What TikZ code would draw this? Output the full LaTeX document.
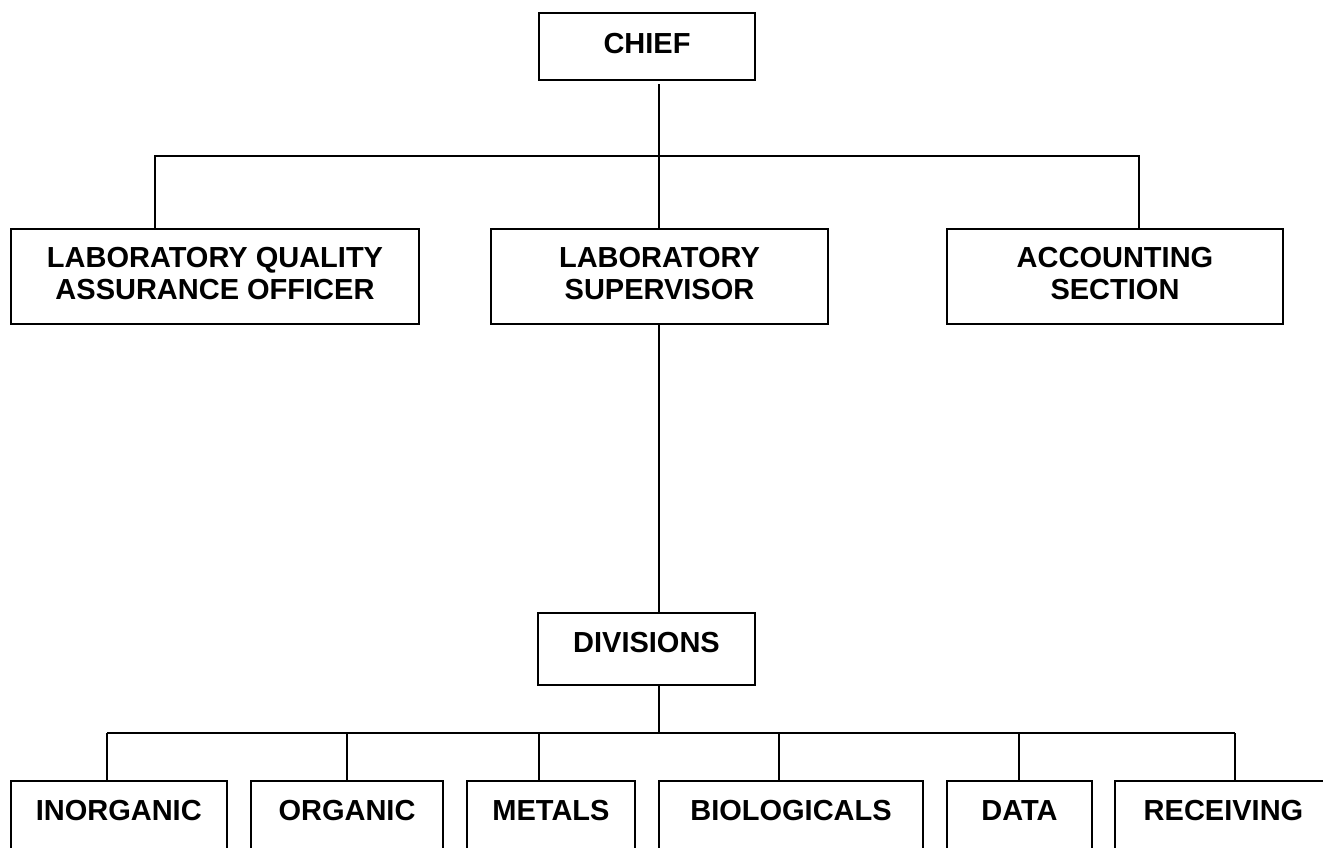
\documentclass[tikz,border=0pt]{standalone}
\usepackage{fontspec}
\setmainfont{Liberation Sans}
\usepackage{tikz}
\usetikzlibrary{positioning}

\begin{document}
\begin{tikzpicture}[x=0.5pt,y=-0.5pt,
    unit/.style={draw,line width=1pt,inner sep=0pt,align=center,
      font=\bfseries\fontsize{14.5}{16}\selectfont,text height=10.4pt},
    oneline/.style={unit,text depth=7pt},
    twoline/.style={unit,minimum height=47.5pt,text height=26.4pt,text depth=3.5pt},
    wire/.style={line width=0.85pt}]
  \useasboundingbox (0,0) rectangle (1323,847);

  % top
  \node[unit,text depth=3.5pt,minimum width=108pt,minimum height=33.5pt](chief) at (647,46.5){CHIEF};

  % second row
  \node[twoline,minimum width=204pt](lqa) at (215,276.5){LABORATORY QUALITY\\ASSURANCE OFFICER};
  \node[twoline,minimum width=168.5pt](sup) at (659.5,276.5){LABORATORY\\SUPERVISOR};
  \node[twoline,minimum width=168pt](acct) at (1115,276.5){ACCOUNTING\\SECTION};

  % divisions
  \node[oneline,minimum width=108.5pt,minimum height=36pt](div) at (646.5,649){DIVISIONS};

  % bottom row
  \node[oneline,minimum width=108.25pt,minimum height=36pt](inorg) at (118.75,817){INORGANIC};
  \node[oneline,minimum width=96pt,minimum height=36pt](org) at (347,817){ORGANIC};
  \node[oneline,minimum width=84pt,minimum height=36pt](metals) at (551,817){METALS};
  \node[oneline,minimum width=132pt,minimum height=36pt](bio) at (791,817){BIOLOGICALS};
  \node[oneline,minimum width=72.5pt,minimum height=36pt](data) at (1019.5,817){DATA};
  \node[oneline,minimum width=108.5pt,minimum height=36pt](recv) at (1223.5,817){RECEIVING};

  % bus points
  \coordinate (chiefout) at (659,84);
  \coordinate (lqadrop) at (155,156);
  \coordinate (acctdrop) at (1139,156);
  \coordinate (divbus) at (659,733);

  \draw[wire] (chiefout) -- (chiefout |- sup.north);
  \draw[wire] (lqadrop |- lqa.north) -- (lqadrop) -- (acctdrop) -- (acctdrop |- acct.north);
  \draw[wire] (sup.south -| chiefout) -- (div.north -| chiefout);
  \draw[wire] (div.south -| chiefout) -- (divbus);
  \coordinate (busleft) at (107,733);
  \coordinate (busright) at (1235,733);
  \draw[wire] (busleft) -- (busright);
  \foreach \x/\unitname in {107/inorg,347/org,539/metals,779/bio,1019/data,1235/recv}{
    \coordinate (drop\unitname) at (\x,733);
    \draw[wire] (drop\unitname) -- (drop\unitname |- \unitname.north);
  }
\end{tikzpicture}
\end{document}
